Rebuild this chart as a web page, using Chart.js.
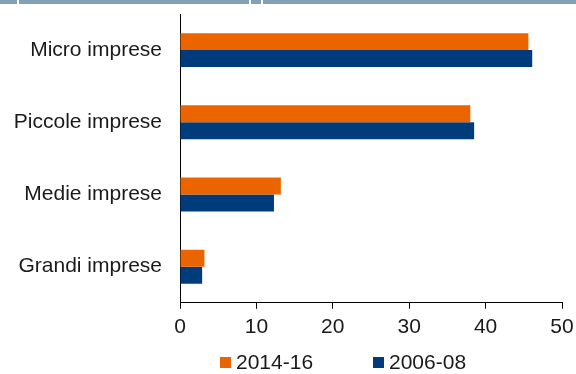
<!DOCTYPE html>
<html>
<head>
<meta charset="utf-8">
<script src="https://cdn.jsdelivr.net/npm/chart.js@4/dist/chart.umd.min.js"></script>
<style>
    html, body { margin: 0; padding: 0; background: #fff; }
    #wrap { position: relative; width: 576px; height: 374px; }
    #legend { position: absolute; left: 0; top: 349px; width: 576px; height: 25px; font-family: "Liberation Sans", Arial, sans-serif; font-size: 21px; color: #1a1a1a; }
    .item { position: absolute; top: 0; line-height: 25px; white-space: nowrap; }
    .box { display: inline-block; width: 11px; height: 11px; margin-right: 5px; vertical-align: 1px; }
</style>
</head>
<body>
<div id="wrap">
    <canvas id="chart" width="576" height="374"></canvas>
    <div id="legend"></div>
</div>
<script>
const categories = ['Micro imprese', 'Piccole imprese', 'Medie imprese', 'Grandi imprese'];
const series2014 = [45.6, 38.0, 13.2, 3.2];
const series2006 = [46.1, 38.5, 12.3, 2.9];
const seriesNames = ['2014-16', '2006-08'];
const xTicks = [0, 10, 20, 30, 40, 50];

const orange = '#EA6500';
const navy = '#003B7B';

// thin header strip cut off at the top of the picture
const headerStrip = {
    id: 'headerStrip',
    beforeDraw(chart) {
        const ctx = chart.ctx;
        ctx.save();
        ctx.fillStyle = '#84A0B4';
        ctx.fillRect(0, 0, chart.width, 4);
        ctx.fillStyle = '#fff';
        ctx.fillRect(17, 0, 2, 4);
        ctx.fillRect(249, 0, 2, 4);
        ctx.fillRect(261, 0, 2, 4);
        ctx.restore();
    }
};

const ctx = document.getElementById('chart').getContext('2d');
const myChart = new Chart(ctx, {
    type: 'bar',
    data: {
        labels: categories,
        datasets: [{
            label: seriesNames[0],
            data: series2014,
            backgroundColor: orange
        }, {
            label: seriesNames[1],
            data: series2006,
            backgroundColor: navy
        }]
    },
    options: {
        indexAxis: 'y',
        responsive: false,
        animation: false,
        categoryPercentage: 0.47,
        barPercentage: 1,
        layout: {
            padding: { top: 14, right: 14, bottom: 28, left: 0 }
        },
        plugins: {
            legend: { display: false },
            tooltip: { enabled: false }
        },
        scales: {
            x: {
                min: 0,
                max: 50,
                afterBuildTicks: function (scale) {
                    scale.ticks = xTicks.map(v => ({ value: v }));
                },
                afterFit: function (scale) {
                    // the layout padding takes care of label overflow
                    scale.paddingLeft = 0;
                    scale.paddingRight = 0;
                },
                grid: {
                    drawOnChartArea: false,
                    drawTicks: true,
                    tickLength: 6,
                    color: '#000'
                },
                border: { display: true, color: '#000', width: 1 },
                ticks: {
                    color: '#1a1a1a',
                    padding: 6,
                    maxRotation: 0,
                    font: { family: 'Liberation Sans', size: 21 }
                }
            },
            y: {
                afterFit: function (scale) {
                    scale.width = 180;
                    scale.paddingTop = 0;
                    scale.paddingBottom = 0;
                },
                grid: { display: false, drawTicks: false },
                border: { display: true, color: '#000', width: 1 },
                ticks: {
                    color: '#1a1a1a',
                    padding: 18,
                    font: { family: 'Liberation Sans', size: 21 }
                }
            }
        }
    },
    plugins: [headerStrip]
});

// legend laid out as in the picture
const legend = document.getElementById('legend');
const legendLeft = [220, 373];
[orange, navy].forEach(function (color, i) {
    const item = document.createElement('div');
    item.className = 'item';
    item.style.left = legendLeft[i] + 'px';
    item.innerHTML = '<span class="box" style="background:' + color + '"></span>' + seriesNames[i];
    legend.appendChild(item);
});
</script>
</body>
</html>
